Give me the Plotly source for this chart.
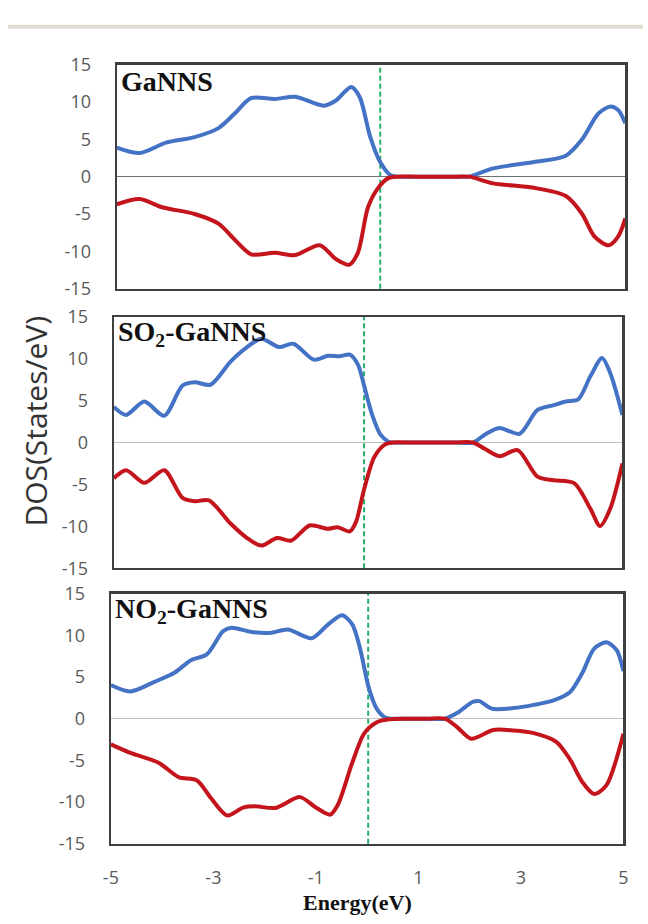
import plotly.graph_objects as go

# ---------------- data ----------------
# Panel 1: GaNNS
e1_up = [-5, -4.55, -4.03, -3.47, -3.0, -2.68, -2.36, -1.89, -1.49, -0.93, -0.69, -0.39, -0.22, -0.02, 0.18, 0.38, 0.5, 0.9, 1.3, 1.7, 1.93, 2.4, 3.2, 3.83, 4.15, 4.47, 4.71, 4.86, 5]
d1_up = [3.9, 3.16, 4.55, 5.3, 6.5, 8.45, 10.5, 10.4, 10.7, 9.5, 10.2, 12.0, 10.6, 5.4, 1.95, 0.2, 0, 0, 0, 0, 0, 1.1, 1.95, 2.8, 5.0, 8.45, 9.4, 8.9, 7.15]
e1_dn = [-5, -4.55, -4.11, -3.47, -3.0, -2.68, -2.36, -1.89, -1.49, -1.01, -0.69, -0.43, -0.26, -0.06, 0.14, 0.34, 0.5, 0.9, 1.3, 1.7, 1.93, 2.4, 3.2, 3.83, 4.15, 4.39, 4.67, 4.86, 5]
d1_dn = [-3.7, -3.0, -4.1, -5.0, -6.3, -8.45, -10.4, -10.2, -10.5, -9.2, -11.05, -11.8, -10.2, -4.1, -1.5, -0.2, 0, 0, 0, 0, 0, -0.9, -1.5, -2.6, -5.0, -8.0, -9.2, -8.0, -5.6]

# Panel 2: SO2-GaNNS
e2_up = [-5, -4.76, -4.40, -4.01, -3.65, -3.41, -3.10, -2.70, -2.38, -2.10, -1.75, -1.47, -1.07, -0.79, -0.56, -0.36, -0.20, -0.08, 0.08, 0.24, 0.40, 0.48, 0.9, 1.3, 1.7, 2.06, 2.30, 2.58, 2.98, 3.33, 3.65, 3.89, 4.13, 4.37, 4.60, 4.76, 5]
d2_up = [4.26, 3.3, 4.9, 3.2, 6.8, 7.2, 6.9, 9.7, 11.4, 12.4, 11.4, 11.8, 9.9, 10.35, 10.3, 10.5, 9.3, 6.8, 3.3, 0.97, 0.1, 0, 0, 0, 0, 0, 0.97, 1.74, 1.05, 3.9, 4.46, 4.9, 5.15, 7.9, 10.1, 8.3, 3.3]
e2_dn = [-5, -4.76, -4.40, -4.01, -3.65, -3.41, -3.13, -2.70, -2.38, -2.10, -1.79, -1.51, -1.15, -0.79, -0.60, -0.36, -0.24, -0.08, 0.12, 0.32, 0.48, 0.9, 1.3, 1.7, 2.06, 2.30, 2.58, 2.94, 3.33, 3.65, 4.05, 4.37, 4.56, 4.76, 5]
d2_dn = [-4.26, -3.3, -4.8, -3.3, -6.6, -7.0, -6.9, -9.7, -11.4, -12.3, -11.4, -11.7, -9.9, -10.3, -10.1, -10.6, -9.5, -5.6, -1.74, -0.27, 0, 0, 0, 0, 0, -0.78, -1.63, -0.9, -4.07, -4.5, -4.85, -7.9, -9.96, -7.9, -2.5]

# Panel 3: NO2-GaNNS
e3_up = [-5, -4.62, -4.15, -3.76, -3.44, -3.13, -2.81, -2.65, -2.26, -1.87, -1.55, -1.08, -0.76, -0.49, -0.29, -0.13, 0.02, 0.18, 0.34, 0.46, 0.8, 1.15, 1.52, 1.76, 2.07, 2.19, 2.43, 2.86, 3.25, 3.65, 3.96, 4.20, 4.43, 4.67, 4.87, 5]
d3_up = [4.04, 3.27, 4.42, 5.5, 7.0, 7.7, 10.5, 10.9, 10.4, 10.3, 10.7, 9.65, 11.3, 12.4, 11.3, 8.2, 3.96, 1.27, 0.19, 0, 0, 0, 0, 0.7, 2.04, 2.1, 1.2, 1.27, 1.65, 2.23, 3.2, 5.5, 8.4, 9.15, 8.2, 5.7]
e3_dn = [-5, -4.62, -4.07, -3.68, -3.32, -3.05, -2.73, -2.42, -2.18, -1.79, -1.31, -1.00, -0.72, -0.57, -0.29, -0.06, 0.18, 0.42, 0.8, 1.15, 1.52, 1.76, 2.03, 2.46, 2.86, 3.25, 3.69, 3.96, 4.20, 4.43, 4.67, 5]
d3_dn = [-3.08, -4.1, -5.27, -7.0, -7.4, -9.5, -11.6, -10.65, -10.5, -10.7, -9.4, -10.65, -11.5, -10.3, -5.27, -1.8, -0.46, -0.08, 0, 0, 0, -1.04, -2.4, -1.35, -1.42, -1.73, -2.77, -4.9, -7.6, -9.04, -7.96, -1.8]

fermi = [0.18, -0.08, 0.02]
panel_labels = ["GaNNS", "SO<sub>2</sub>-GaNNS", "NO<sub>2</sub>-GaNNS"]
x_ticks = [-5, -3, -1, 1, 3, 5]
x_ticktext = ["-5", "-3", "-1", "1", "3", "5"]
y_ticks = [-15, -10, -5, 0, 5, 10, 15]
y_ticktext = ["-15", "-10", "-5", "0", "5", "10", "15"]

W, H = 648, 924
BLUE = "#4472C4"
RED = "#C4151D"
GREEN = "#27B06A"
TICKFONT = dict(family="Open Sans", size=18, color="#595959")

panels = [
    (e1_up, d1_up, e1_dn, d1_dn),
    (e2_up, d2_up, e2_dn, d2_dn),
    (e3_up, d3_up, e3_dn, d3_dn),
]
# pixel boxes (left, right, top, bottom)
boxes = [(111, 630, 53, 283), (108, 627, 312, 570), (105, 628, 596, 853)]
zero_colors = ["#707070", "#bfbfbf", "#bfbfbf"]

fig = go.Figure()
layout = dict(width=W, height=H, margin=dict(l=0, r=0, t=0, b=0), autosize=False,
              plot_bgcolor="white", paper_bgcolor="white", showlegend=False, hovermode=False)

shapes = []
annotations = []
for i, (eu, du, ed, dd) in enumerate(panels):
    n = "" if i == 0 else str(i + 1)
    xa, ya = "x" + n, "y" + n
    fig.add_trace(go.Scatter(x=eu, y=du, mode="lines", line=dict(color=BLUE, width=4, shape="spline", smoothing=0.8),
                             xaxis=xa, yaxis=ya))
    fig.add_trace(go.Scatter(x=ed, y=dd, mode="lines", line=dict(color=RED, width=4, shape="spline", smoothing=0.8),
                             xaxis=xa, yaxis=ya))
    l, r, t, b = boxes[i]
    layout["xaxis" + n] = dict(domain=[l / W, r / W], range=[-5, 5], anchor=ya,
                               tickvals=x_ticks, ticktext=x_ticktext, showticklabels=(i == 2),
                               showgrid=False, zeroline=False, showline=True, mirror=True,
                               linecolor="#3f3f3f", linewidth=2.2, ticks="", ticklabelstandoff=16,
                               tickfont=TICKFONT)
    layout["yaxis" + n] = dict(domain=[1 - b / H, 1 - t / H], range=[-15, 15], anchor=xa,
                               tickvals=y_ticks, ticktext=y_ticktext, showgrid=False, zeroline=True,
                               zerolinecolor=zero_colors[i], zerolinewidth=1.6,
                               showline=True, mirror=True, linecolor="#3f3f3f", linewidth=2.2, ticks="",
                               ticklabelstandoff=20, tickfont=TICKFONT)
    shapes.append(dict(type="line", xref=xa, yref=ya + " domain", x0=fermi[i], x1=fermi[i], y0=0, y1=1,
                       layer="below", line=dict(color=GREEN, width=2, dash="5px,3px")))
    annotations.append(dict(text="<b>%s</b>" % panel_labels[i], xref="paper", yref="paper",
                            x=(l + 2) / W, y=1 - (t + 17) / H, xanchor="left", yanchor="middle",
                            showarrow=False, font=dict(family="Liberation Serif", size=28, color="#111111")))

shapes.append(dict(type="line", xref="paper", yref="paper", x0=0, x1=1, y0=1 - 14 / H, y1=1 - 14 / H,
                   line=dict(color="#E0DBCF", width=4)))
annotations.append(dict(text="DOS(States/eV)", xref="paper", yref="paper", x=28 / W, y=1 - 419 / H,
                        textangle=-90, showarrow=False, xanchor="center", yanchor="middle",
                        font=dict(family="Open Sans", size=30, color="#333333")))
annotations.append(dict(text="<b>Energy(eV)</b>", xref="paper", yref="paper", x=357 / W, y=1 - 913 / H,
                        showarrow=False, xanchor="center", yanchor="middle",
                        font=dict(family="Liberation Serif", size=22, color="#111111")))
layout["shapes"] = shapes
layout["annotations"] = annotations
fig.update_layout(**layout)
fig.write_html("out.html", config={"displayModeBar": False, "staticPlot": True},
               post_script="document.body.style.margin='0';document.body.style.padding='0';document.body.style.overflow='hidden';")
